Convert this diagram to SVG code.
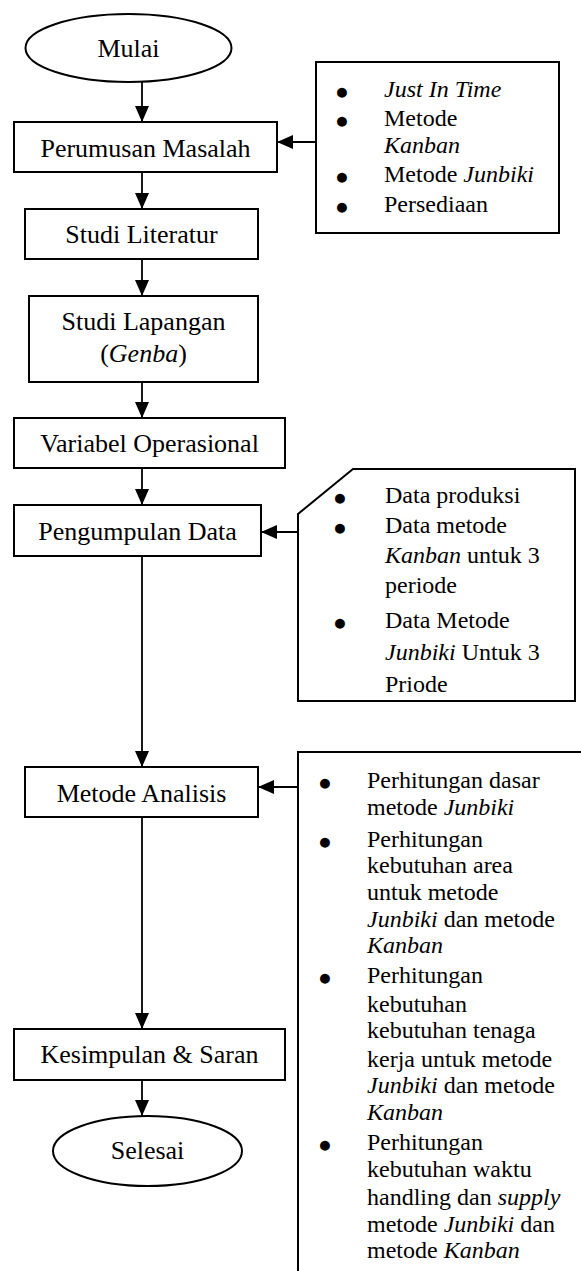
<svg xmlns="http://www.w3.org/2000/svg" width="581" height="1271" viewBox="0 0 581 1271">
<style>
.shape{fill:#fff;stroke:#000;stroke-width:2}
.open{fill:none;stroke:#000;stroke-width:2}
.t{font-family:"Liberation Serif","Times New Roman",serif;font-size:26px;fill:#000}
.m{text-anchor:middle}
.l{font-family:"Liberation Serif","Times New Roman",serif;font-size:24px;fill:#000}
.b{text-anchor:middle;font-size:23px}
.i{font-style:italic}
.c{fill:none;stroke:#000;stroke-width:1.8}
</style>
<defs>
<marker id="ah" markerUnits="userSpaceOnUse" markerWidth="16" markerHeight="14" viewBox="0 0 16 14" refX="16" refY="7" orient="auto">
<path d="M0,0 L16,7 L0,14 Z" fill="#000"/>
</marker>
</defs>
<rect width="581" height="1271" fill="#fff"/>
<g id="connectors">
<line class="c" x1="142" y1="82" x2="142" y2="122" marker-end="url(#ah)"/>
<line class="c" x1="142" y1="172" x2="142" y2="209" marker-end="url(#ah)"/>
<line class="c" x1="142" y1="259" x2="142" y2="296" marker-end="url(#ah)"/>
<line class="c" x1="142" y1="382" x2="142" y2="418" marker-end="url(#ah)"/>
<line class="c" x1="142" y1="468" x2="142" y2="505" marker-end="url(#ah)"/>
<line class="c" x1="142" y1="556" x2="142" y2="767" marker-end="url(#ah)"/>
<line class="c" x1="142" y1="817" x2="142" y2="1029" marker-end="url(#ah)"/>
<line class="c" x1="142" y1="1080" x2="142" y2="1116" marker-end="url(#ah)"/>
<line class="c" x1="316" y1="142" x2="277" y2="142" marker-end="url(#ah)"/>
<line class="c" x1="298" y1="532" x2="261" y2="532" marker-end="url(#ah)"/>
<line class="c" x1="298" y1="787" x2="258" y2="787" marker-end="url(#ah)"/>
</g>
<g id="mulai">
<ellipse class="shape" cx="128.5" cy="48" rx="103" ry="34"/>
<text class="t m" x="128.5" y="57">Mulai</text>
</g>
<g id="perumusan">
<rect class="shape" x="14" y="122" width="263" height="50"/>
<text class="t m" x="145.5" y="157">Perumusan Masalah</text>
</g>
<g id="studi-literatur">
<rect class="shape" x="25" y="209" width="233" height="50"/>
<text class="t m" x="141.5" y="243">Studi Literatur</text>
</g>
<g id="studi-lapangan">
<rect class="shape" x="29" y="296" width="229" height="86"/>
<text class="t m" x="143.5" y="330">Studi Lapangan</text>
<text class="t m" x="143.5" y="362">(<tspan class="i">Genba</tspan>)</text>
</g>
<g id="variabel">
<rect class="shape" x="14" y="418" width="271" height="50"/>
<text class="t m" x="149.5" y="452">Variabel Operasional</text>
</g>
<g id="pengumpulan">
<rect class="shape" x="14" y="505" width="247" height="51"/>
<text class="t m" x="137.5" y="540">Pengumpulan Data</text>
</g>
<g id="metode-analisis">
<rect class="shape" x="25" y="767" width="233" height="50"/>
<text class="t m" x="141.5" y="802">Metode Analisis</text>
</g>
<g id="kesimpulan">
<rect class="shape" x="14" y="1029" width="271" height="51"/>
<text class="t m" x="149.5" y="1063">Kesimpulan &amp; Saran</text>
</g>
<g id="selesai">
<ellipse class="shape" cx="147.5" cy="1151" rx="94.5" ry="35"/>
<text class="t m" x="147.5" y="1159">Selesai</text>
</g>
<g id="list-teori">
<rect class="shape" x="316" y="62" width="243" height="171"/>
<text class="l b" x="342" y="99">●</text>
<text class="l" x="384" y="97"><tspan class="i">Just In Time</tspan></text>
<text class="l b" x="342" y="128">●</text>
<text class="l" x="384" y="126">Metode</text>
<text class="l i" x="384" y="153">Kanban</text>
<text class="l b" x="342" y="184">●</text>
<text class="l" x="384" y="182">Metode <tspan class="i">Junbiki</tspan></text>
<text class="l b" x="342" y="214">●</text>
<text class="l" x="384" y="212">Persediaan</text>
</g>
<g id="list-data">
<path class="shape" d="M353,469 H575 V701 H298 V514 Z"/>
<text class="l b" x="340" y="505">●</text>
<text class="l" x="385" y="503">Data produksi</text>
<text class="l b" x="340" y="535">●</text>
<text class="l" x="385" y="533">Data metode</text>
<text class="l" x="385" y="563"><tspan class="i">Kanban</tspan> untuk 3</text>
<text class="l" x="385" y="593">periode</text>
<text class="l b" x="340" y="630">●</text>
<text class="l" x="385" y="628">Data Metode</text>
<text class="l" x="385" y="660"><tspan class="i">Junbiki</tspan> Untuk 3</text>
<text class="l" x="385" y="692">Priode</text>
</g>
<g id="list-analisis">
<path class="open" d="M582,752 H298 V1272"/>
<text class="l b" x="325" y="790">●</text>
<text class="l" x="367" y="788">Perhitungan dasar</text>
<text class="l" x="367" y="815">metode <tspan class="i">Junbiki</tspan></text>
<text class="l b" x="325" y="849">●</text>
<text class="l" x="367" y="847">Perhitungan</text>
<text class="l" x="367" y="873">kebutuhan area</text>
<text class="l" x="367" y="900">untuk metode</text>
<text class="l" x="367" y="927"><tspan class="i">Junbiki</tspan> dan metode</text>
<text class="l i" x="367" y="953">Kanban</text>
<text class="l b" x="325" y="985">●</text>
<text class="l" x="367" y="983">Perhitungan</text>
<text class="l" x="367" y="1012">kebutuhan</text>
<text class="l" x="367" y="1038">kebutuhan tenaga</text>
<text class="l" x="367" y="1067">kerja untuk metode</text>
<text class="l" x="367" y="1093"><tspan class="i">Junbiki</tspan> dan metode</text>
<text class="l i" x="367" y="1120">Kanban</text>
<text class="l b" x="325" y="1152">●</text>
<text class="l" x="367" y="1150">Perhitungan</text>
<text class="l" x="367" y="1177">kebutuhan waktu</text>
<text class="l" x="367" y="1205">handling dan <tspan class="i">supply</tspan></text>
<text class="l" x="367" y="1232">metode <tspan class="i">Junbiki</tspan> dan</text>
<text class="l" x="367" y="1258">metode <tspan class="i">Kanban</tspan></text>
</g>
</svg>
